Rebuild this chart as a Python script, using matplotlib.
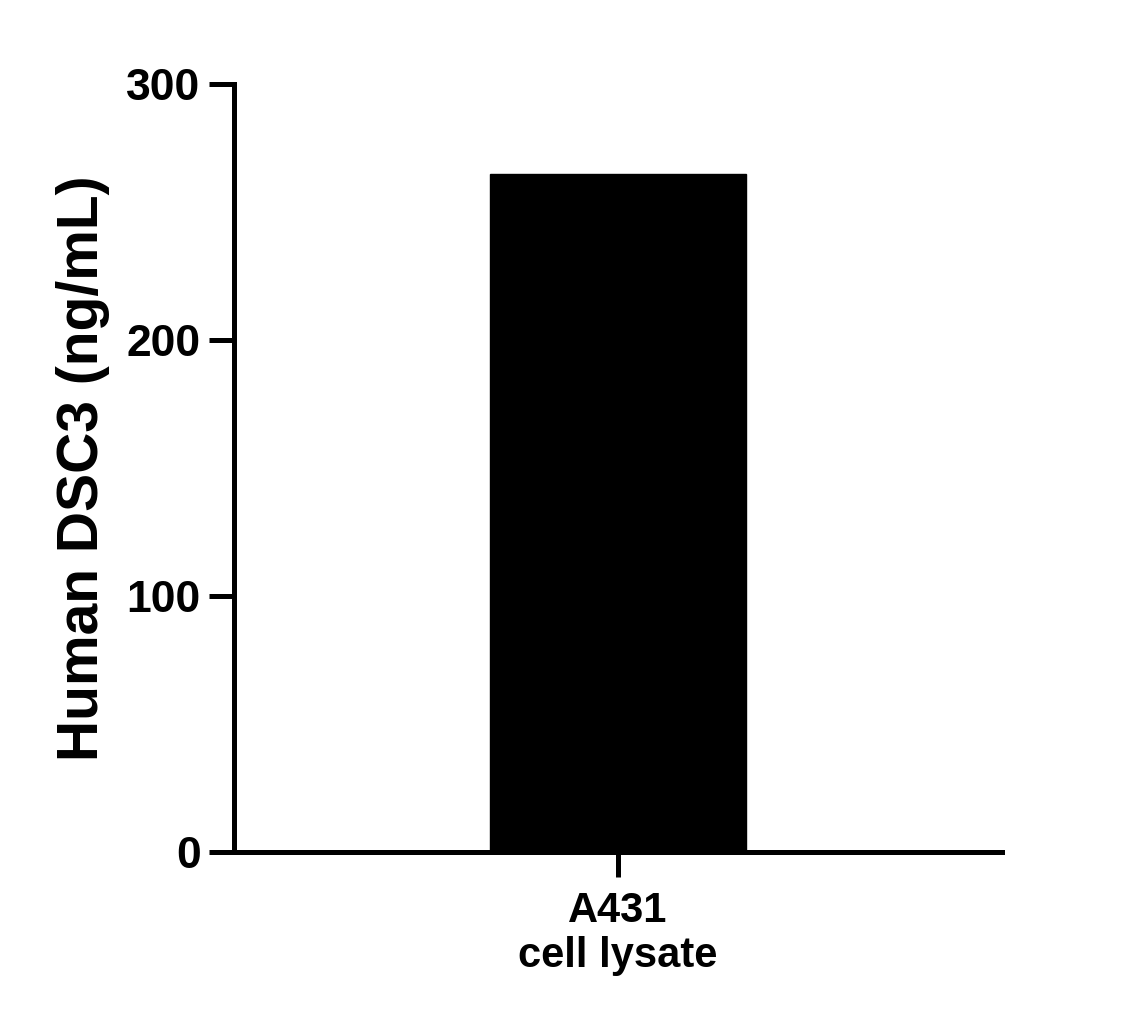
import matplotlib.pyplot as plt

plt.rcParams["font.family"] = ["Liberation Sans", "DejaVu Sans"]
plt.rcParams["font.weight"] = "bold"

categories = ["A431\ncell lysate"]
values = [265]
y_ticks = [0, 100, 200, 300]

fig = plt.figure(figsize=(11.4, 10.14), dpi=100)
ax = fig.add_axes([0.2053, 0.1598, 0.6737, 0.7574])

ax.bar(
    range(len(categories)),
    values,
    width=1.0,
    color="black",
    edgecolor="black",
)

ax.set_xlim(-1.5, 1.5)
ax.set_ylim(0, 300)
ax.set_yticks(y_ticks)
ax.set_xticks(range(len(categories)))
ax.set_xticklabels(categories, fontsize=30, fontweight="bold", linespacing=1.15)
ax.set_yticklabels([str(t) for t in y_ticks], fontsize=32, fontweight="bold")

for side in ["top", "right"]:
    ax.spines[side].set_visible(False)
for side in ["left", "bottom"]:
    ax.spines[side].set_linewidth(3.6)
    ax.spines[side].set_capstyle("projecting")

ax.tick_params(axis="both", width=3.6, length=18)
ax.tick_params(axis="y", pad=6)
ax.tick_params(axis="x", pad=10)

ax.set_ylabel(
    "Human DSC3 (ng/mL)",
    fontsize=41,
    fontweight="bold",
    labelpad=12,
)

fig.savefig("out.png", dpi=100)
